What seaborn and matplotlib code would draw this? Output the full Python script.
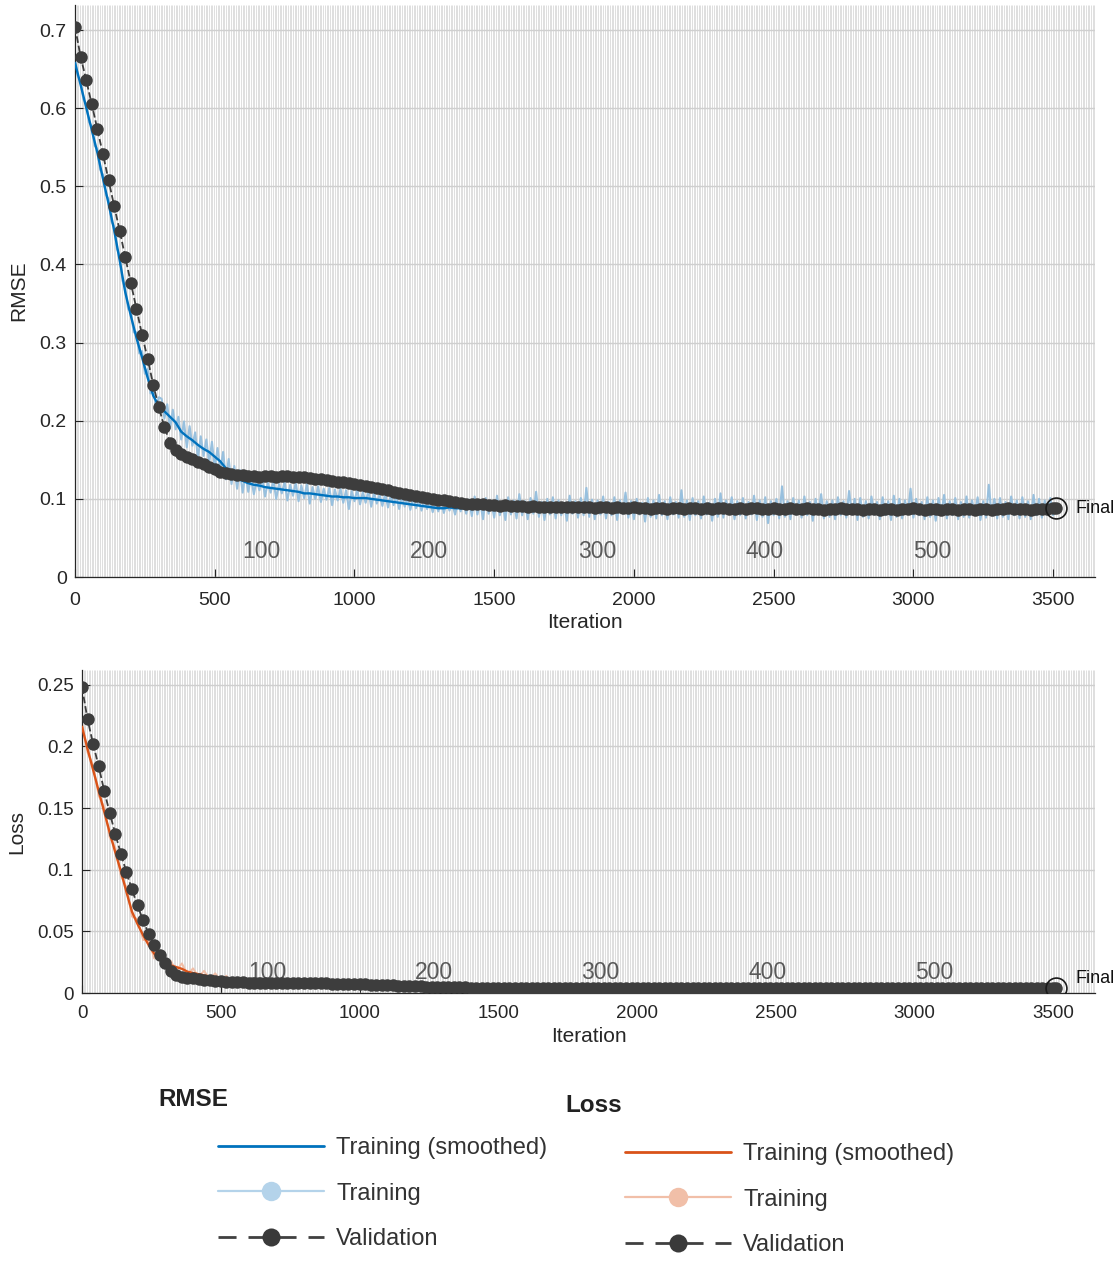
import numpy as np
import matplotlib.pyplot as plt
import seaborn as sns
from matplotlib.lines import Line2D

# validation every 20 iterations, last point at the final iteration
val_iter = list(range(0, 3501, 20)) + [3510]
# raw training rmse sampled every 10 iterations
raw_iter = list(range(0, 3511, 10))
epoch_labels = ["100", "200", "300", "400", "500"]
epoch_label_iter = [600, 1200, 1800, 2400, 3000]

rmse_val = [
    0.704, 0.666, 0.636, 0.605, 0.573, 0.541, 0.508, 0.475, 0.443, 0.409,
    0.376, 0.343, 0.310, 0.279, 0.246, 0.217, 0.192, 0.172, 0.163, 0.158,
    0.154, 0.151, 0.147, 0.144, 0.141, 0.138, 0.135, 0.133, 0.132, 0.131,
    0.130, 0.129, 0.129, 0.128, 0.129, 0.129, 0.128, 0.129, 0.129, 0.128,
    0.128, 0.128, 0.127, 0.126, 0.125, 0.124, 0.123, 0.122, 0.121, 0.120,
    0.119, 0.118, 0.117, 0.115, 0.114, 0.112, 0.111, 0.109, 0.108, 0.106,
    0.105, 0.104, 0.102, 0.101, 0.100, 0.099, 0.098, 0.097, 0.096, 0.095,
    0.094, 0.093, 0.093, 0.093, 0.092, 0.092, 0.091, 0.092, 0.091, 0.091,
    0.091, 0.090, 0.091, 0.090, 0.090, 0.090, 0.089, 0.090, 0.089, 0.089,
    0.090, 0.089, 0.089, 0.088, 0.089, 0.089, 0.088, 0.089, 0.088, 0.088,
    0.089, 0.088, 0.088, 0.087, 0.088, 0.088, 0.087, 0.088, 0.088, 0.087,
    0.088, 0.088, 0.087, 0.088, 0.087, 0.088, 0.088, 0.087, 0.087, 0.088,
    0.087, 0.088, 0.088, 0.087, 0.087, 0.088, 0.087, 0.087, 0.088, 0.087,
    0.087, 0.088, 0.087, 0.087, 0.086, 0.087, 0.087, 0.088, 0.087, 0.087,
    0.087, 0.086, 0.087, 0.087, 0.086, 0.087, 0.087, 0.086, 0.087, 0.087,
    0.088, 0.087, 0.086, 0.087, 0.087, 0.086, 0.087, 0.087, 0.086, 0.087,
    0.087, 0.086, 0.087, 0.087, 0.086, 0.087, 0.087, 0.088, 0.087, 0.087,
    0.087, 0.086, 0.087, 0.087, 0.087, 0.088, 0.088,
]

rmse_smooth = [
    0.658, 0.630, 0.601, 0.572, 0.543, 0.510, 0.478, 0.444, 0.405, 0.364,
    0.334, 0.306, 0.281, 0.255, 0.232, 0.219, 0.212, 0.205, 0.198, 0.186,
    0.180, 0.175, 0.169, 0.164, 0.160, 0.154, 0.148, 0.139, 0.130, 0.126,
    0.123, 0.120, 0.118, 0.117, 0.115, 0.114, 0.113, 0.112, 0.111, 0.110,
    0.109, 0.107, 0.107, 0.106, 0.105, 0.104, 0.103, 0.103, 0.102, 0.102,
    0.101, 0.101, 0.101, 0.100, 0.099, 0.098, 0.097, 0.096, 0.095, 0.094,
    0.093, 0.092, 0.091, 0.090, 0.089, 0.088, 0.088, 0.089, 0.088, 0.088,
    0.088, 0.087, 0.088, 0.088, 0.087, 0.088, 0.087, 0.087, 0.088, 0.087,
    0.087, 0.088, 0.087, 0.086, 0.087, 0.087, 0.088, 0.087, 0.086, 0.087,
    0.087, 0.086, 0.087, 0.088, 0.087, 0.086, 0.087, 0.087, 0.086, 0.087,
    0.088, 0.087, 0.086, 0.087, 0.087, 0.088, 0.087, 0.086, 0.087, 0.087,
    0.086, 0.087, 0.088, 0.087, 0.086, 0.087, 0.087, 0.086, 0.088, 0.087,
    0.087, 0.086, 0.087, 0.087, 0.088, 0.087, 0.086, 0.087, 0.087, 0.086,
    0.087, 0.088, 0.087, 0.086, 0.087, 0.087, 0.086, 0.087, 0.088, 0.087,
    0.086, 0.087, 0.087, 0.086, 0.087, 0.088, 0.087, 0.086, 0.087, 0.087,
    0.087, 0.086, 0.087, 0.088, 0.087, 0.086, 0.087, 0.087, 0.088, 0.087,
    0.086, 0.087, 0.087, 0.086, 0.087, 0.088, 0.087, 0.086, 0.087, 0.087,
    0.087, 0.088, 0.087, 0.086, 0.087, 0.087, 0.087,
]

rmse_raw = [
    0.662, 0.641, 0.634, 0.611, 0.606, 0.582, 0.577, 0.552, 0.548, 0.521,
    0.515, 0.489, 0.484, 0.455, 0.449, 0.420, 0.411, 0.379, 0.370, 0.343,
    0.340, 0.313, 0.313, 0.286, 0.289, 0.260, 0.266, 0.235, 0.243, 0.216,
    0.230,
    0.228, 0.203, 0.221, 0.190, 0.214, 0.189, 0.205, 0.176, 0.199, 0.166,
    0.193, 0.168, 0.185, 0.152, 0.180, 0.155, 0.176, 0.146, 0.173, 0.140,
    0.165, 0.137, 0.160, 0.125, 0.151, 0.119, 0.142, 0.113, 0.137, 0.108,
    0.133, 0.109, 0.128, 0.106, 0.124, 0.111, 0.127, 0.103, 0.121, 0.108,
    0.124, 0.100, 0.119, 0.107, 0.122, 0.098, 0.118, 0.104, 0.121, 0.097,
    0.117, 0.101, 0.119, 0.094, 0.115, 0.100, 0.116, 0.096, 0.113, 0.099,
    0.114, 0.092, 0.112, 0.098, 0.113, 0.095, 0.111, 0.087, 0.110, 0.097,
    0.112, 0.093, 0.109, 0.095, 0.111, 0.090, 0.108, 0.094, 0.106, 0.091,
    0.107, 0.089, 0.105, 0.092, 0.104, 0.087, 0.103, 0.090, 0.101, 0.086,
    0.102, 0.088, 0.099, 0.085, 0.098, 0.087, 0.097, 0.083, 0.096, 0.084,
    0.097, 0.082, 0.096, 0.085, 0.094, 0.080, 0.095, 0.084, 0.096, 0.081,
    0.099, 0.078, 0.103, 0.080, 0.097, 0.074, 0.101, 0.081, 0.096, 0.076,
    0.104, 0.079, 0.095, 0.073, 0.102, 0.080, 0.098, 0.075, 0.106, 0.079,
    0.097, 0.074, 0.101, 0.081, 0.109, 0.077, 0.096, 0.073, 0.100, 0.080,
    0.102, 0.075, 0.098, 0.079, 0.095, 0.072, 0.104, 0.081, 0.097, 0.076,
    0.101, 0.079, 0.114, 0.077, 0.099, 0.074, 0.098, 0.080, 0.103, 0.075,
    0.096, 0.079, 0.102, 0.073, 0.098, 0.081, 0.108, 0.076, 0.097, 0.074,
    0.100, 0.080, 0.095, 0.071, 0.101, 0.077, 0.098, 0.075, 0.105, 0.079,
    0.097, 0.074, 0.102, 0.080, 0.096, 0.076, 0.111, 0.077, 0.098, 0.073,
    0.101, 0.079, 0.097, 0.075, 0.103, 0.080, 0.095, 0.072, 0.100, 0.077,
    0.107, 0.076, 0.098, 0.081, 0.102, 0.074, 0.097, 0.079, 0.101, 0.075,
    0.096, 0.080, 0.104, 0.073, 0.098, 0.077, 0.102, 0.069, 0.097, 0.079,
    0.100, 0.075, 0.116, 0.077, 0.097, 0.074, 0.101, 0.080, 0.098, 0.076,
    0.103, 0.079, 0.096, 0.072, 0.100, 0.081, 0.106, 0.075, 0.097, 0.077,
    0.098, 0.074, 0.102, 0.079, 0.097, 0.076, 0.110, 0.080, 0.100, 0.073,
    0.101, 0.077, 0.097, 0.075, 0.103, 0.080, 0.096, 0.074, 0.102, 0.079,
    0.097, 0.073, 0.104, 0.077, 0.100, 0.075, 0.098, 0.081, 0.113, 0.076,
    0.100, 0.079, 0.096, 0.074, 0.102, 0.077, 0.098, 0.072, 0.101, 0.080,
    0.105, 0.075, 0.097, 0.079, 0.101, 0.074, 0.096, 0.077, 0.103, 0.076,
    0.098, 0.080, 0.102, 0.073, 0.097, 0.076, 0.118, 0.079, 0.100, 0.075,
    0.101, 0.077, 0.096, 0.074, 0.103, 0.079, 0.098, 0.075, 0.102, 0.077,
    0.097, 0.074, 0.105, 0.079, 0.100, 0.076, 0.098, 0.080, 0.101, 0.079,
    0.088,
]

loss_val = [
    0.248, 0.222, 0.202, 0.184, 0.164, 0.146, 0.129, 0.113, 0.098, 0.084,
    0.071, 0.059, 0.048, 0.039, 0.031, 0.024, 0.018, 0.0148, 0.0133, 0.0125,
    0.0118, 0.0114, 0.0108, 0.0104, 0.0099, 0.0095, 0.0091, 0.0089, 0.0087, 0.0086,
    0.0085, 0.0083, 0.0083, 0.0082, 0.0083, 0.0083, 0.0082, 0.0083, 0.0083, 0.0082,
    0.0082, 0.0082, 0.0081, 0.0079, 0.0078, 0.0077, 0.0076, 0.0074, 0.0073, 0.0072,
    0.0071, 0.0070, 0.0068, 0.0066, 0.0065, 0.0063, 0.0062, 0.0059, 0.0058, 0.0056,
    0.0055, 0.0054, 0.0052, 0.0051, 0.0050, 0.0049, 0.0048, 0.0047, 0.0046, 0.0045,
    0.0044, 0.0043, 0.0043, 0.0043, 0.0042, 0.0042, 0.0041, 0.0042, 0.0041, 0.0041,
    0.0041, 0.0040, 0.0041, 0.0040, 0.0040, 0.0040, 0.0040, 0.0040, 0.0040, 0.0040,
    0.0040, 0.0040, 0.0040, 0.0039, 0.0040, 0.0040, 0.0039, 0.0040, 0.0039, 0.0039,
    0.0040, 0.0039, 0.0039, 0.0038, 0.0039, 0.0039, 0.0038, 0.0039, 0.0039, 0.0038,
    0.0039, 0.0039, 0.0038, 0.0039, 0.0038, 0.0039, 0.0039, 0.0038, 0.0038, 0.0039,
    0.0038, 0.0039, 0.0039, 0.0038, 0.0038, 0.0039, 0.0038, 0.0038, 0.0039, 0.0038,
    0.0038, 0.0039, 0.0038, 0.0038, 0.0037, 0.0038, 0.0038, 0.0039, 0.0038, 0.0038,
    0.0038, 0.0037, 0.0038, 0.0038, 0.0037, 0.0038, 0.0038, 0.0037, 0.0038, 0.0038,
    0.0039, 0.0038, 0.0037, 0.0038, 0.0038, 0.0037, 0.0038, 0.0038, 0.0037, 0.0038,
    0.0038, 0.0037, 0.0038, 0.0038, 0.0037, 0.0038, 0.0038, 0.0039, 0.0038, 0.0038,
    0.0038, 0.0037, 0.0038, 0.0038, 0.0038, 0.0039, 0.0039,
]

loss_smooth = [
    0.216, 0.198, 0.181, 0.164, 0.147, 0.130, 0.114, 0.099, 0.082, 0.066,
    0.056, 0.047, 0.039, 0.032, 0.027, 0.024, 0.0225, 0.021, 0.0196, 0.0173,
    0.0162, 0.0153, 0.0143, 0.0134, 0.0128, 0.0119, 0.0110, 0.0097, 0.0085, 0.0079,
    0.0076, 0.0072, 0.0070, 0.0068, 0.0066, 0.0065, 0.0064, 0.0063, 0.0062, 0.0060,
    0.0059, 0.0057, 0.0057, 0.0056, 0.0055, 0.0054, 0.0053, 0.0053, 0.0052, 0.0052,
    0.0051, 0.0051, 0.0051, 0.0050, 0.0049, 0.0048, 0.0047, 0.0046, 0.0045, 0.0044,
    0.0043, 0.0042, 0.0041, 0.0040, 0.0040, 0.0039, 0.0039, 0.0040, 0.0039, 0.0039,
    0.0039, 0.0038, 0.0039, 0.0039, 0.0038, 0.0039, 0.0038, 0.0038, 0.0039, 0.0038,
    0.0038, 0.0039, 0.0038, 0.0037, 0.0038, 0.0038, 0.0039, 0.0038, 0.0037, 0.0038,
    0.0038, 0.0037, 0.0038, 0.0039, 0.0038, 0.0037, 0.0038, 0.0038, 0.0037, 0.0038,
    0.0039, 0.0038, 0.0037, 0.0038, 0.0038, 0.0039, 0.0038, 0.0037, 0.0038, 0.0038,
    0.0037, 0.0038, 0.0039, 0.0038, 0.0037, 0.0038, 0.0038, 0.0037, 0.0039, 0.0038,
    0.0038, 0.0037, 0.0038, 0.0038, 0.0039, 0.0038, 0.0037, 0.0038, 0.0038, 0.0037,
    0.0038, 0.0039, 0.0038, 0.0037, 0.0038, 0.0038, 0.0037, 0.0038, 0.0039, 0.0038,
    0.0037, 0.0038, 0.0038, 0.0037, 0.0038, 0.0039, 0.0038, 0.0037, 0.0038, 0.0038,
    0.0038, 0.0037, 0.0038, 0.0039, 0.0038, 0.0037, 0.0038, 0.0038, 0.0039, 0.0038,
    0.0037, 0.0038, 0.0038, 0.0037, 0.0038, 0.0039, 0.0038, 0.0037, 0.0038, 0.0038,
    0.0038, 0.0039, 0.0038, 0.0037, 0.0038, 0.0038, 0.0038,
]

loss_raw = [
    0.219, 0.195, 0.185, 0.160, 0.151, 0.126, 0.118, 0.095, 0.086, 0.062,
    0.060, 0.043, 0.043, 0.028, 0.031, 0.021, 0.026, 0.018, 0.024, 0.015,
    0.020, 0.013, 0.018, 0.011, 0.016, 0.0098, 0.014, 0.0078, 0.0105, 0.0062,
    0.0092, 0.0058, 0.0086, 0.0055, 0.0081, 0.0052, 0.0078, 0.0050, 0.0075, 0.0047,
    0.0071, 0.0046, 0.0069, 0.0044, 0.0066, 0.0043, 0.0064, 0.0041, 0.0063, 0.0042,
    0.0062, 0.0041, 0.0060, 0.0040, 0.0059, 0.0038, 0.0057, 0.0037, 0.0054, 0.0036,
    0.0052, 0.0035, 0.0050, 0.0033, 0.0048, 0.0032, 0.0047, 0.0033, 0.0046, 0.0032,
    0.0046, 0.0031, 0.0047, 0.0032, 0.0045, 0.0031, 0.0046, 0.0030, 0.0048, 0.0032,
    0.0045, 0.0031, 0.0047, 0.0030, 0.0046, 0.0032, 0.0052, 0.0031, 0.0045, 0.0030,
    0.0046, 0.0032, 0.0044, 0.0031, 0.0047, 0.0030, 0.0045, 0.0032, 0.0046, 0.0031,
    0.0051, 0.0031, 0.0045, 0.0032, 0.0047, 0.0030, 0.0045, 0.0031, 0.0046, 0.0032,
    0.0045, 0.0030, 0.0060, 0.0031, 0.0046, 0.0032, 0.0045, 0.0030, 0.0047, 0.0031,
    0.0046, 0.0032, 0.0045, 0.0029, 0.0047, 0.0031, 0.0050, 0.0032, 0.0045, 0.0030,
    0.0046, 0.0031, 0.0048, 0.0032, 0.0045, 0.0030, 0.0047, 0.0031, 0.0056, 0.0032,
    0.0045, 0.0031, 0.0047, 0.0030, 0.0046, 0.0032, 0.0045, 0.0031, 0.0049, 0.0030,
    0.0046, 0.0032, 0.0045, 0.0031, 0.0047, 0.0030, 0.0046, 0.0032, 0.0045, 0.0031,
    0.0048, 0.0030, 0.0046, 0.0032, 0.0062, 0.0031, 0.0045, 0.0030, 0.0047, 0.0032,
    0.0046, 0.0031, 0.0045, 0.0032, 0.0047, 0.0031, 0.0039,
]

sns.set_theme(style="white")
plt.rcParams['font.family'] = ['Liberation Sans', 'DejaVu Sans']

blue = "#0072BD"
blue_light = "#98c0de"
orange = "#D95319"
orange_light = "#f1bfa8"
val_col = "#3d3d3d"
txt = "#262626"

fig = plt.figure(figsize=(11.14, 12.63), dpi=100)
ax1 = fig.add_axes([75 / 1114, 1 - 577 / 1263, 1020 / 1114, 572 / 1263])
ax2 = fig.add_axes([82 / 1114, 1 - 993 / 1263, 1013 / 1114, 323 / 1263])


def style_axis(ax, ylim, yticks, ylabels, ylab, tsize, xpad):
    ax.set_xlim(0, 3650)
    ax.set_ylim(*ylim)
    # epoch boundaries (6 iterations per epoch)
    ax.vlines(np.arange(0, 3651, 6), 0, 1, transform=ax.get_xaxis_transform(),
              colors="#dcdcdc", lw=0.65, zorder=0)
    ax.set_axisbelow(True)
    ax.grid(axis="y", color="#cfcfcf", lw=1.0)
    ax.grid(axis="x", visible=False)
    ax.set_yticks(yticks)
    ax.set_yticklabels(ylabels)
    ax.set_xticks(range(0, 3501, 500))
    ax.tick_params(direction="in", length=6, width=0.8, colors=txt,
                   labelsize=tsize, left=True, bottom=True)
    ax.tick_params(axis="y", pad=6)
    ax.tick_params(axis="x", pad=xpad)
    for s in ["top", "right"]:
        ax.spines[s].set_visible(False)
    for s in ["left", "bottom"]:
        ax.spines[s].set_color(txt)
        ax.spines[s].set_linewidth(0.9)
    ax.set_xlabel("Iteration", fontsize=15, color=txt, labelpad=3)
    ax.set_ylabel(ylab, fontsize=15, color=txt, labelpad=8)


style_axis(ax1, (0, 0.732), [0, 0.1, 0.2, 0.3, 0.4, 0.5, 0.6, 0.7],
           ["0", "0.1", "0.2", "0.3", "0.4", "0.5", "0.6", "0.7"], "RMSE", 14, 11)
style_axis(ax2, (0, 0.262), [0, 0.05, 0.1, 0.15, 0.2, 0.25],
           ["0", "0.05", "0.1", "0.15", "0.2", "0.25"], "Loss", 13.5, 9)

for ax, ylab in [(ax1, 0.033), (ax2, 0.017)]:
    for lab, it in zip(epoch_labels, epoch_label_iter):
        ax.text(it, ylab, lab, fontsize=16.5, color="#5a5a5a", ha="left",
                va="center", zorder=1)

# RMSE panel
sns.lineplot(x=raw_iter, y=rmse_raw, ax=ax1, color=blue_light, lw=1.5, zorder=2)
sns.lineplot(x=val_iter, y=rmse_smooth, ax=ax1, color=blue, lw=1.7, zorder=3)
sns.lineplot(x=val_iter, y=rmse_val, ax=ax1, color=val_col, lw=1.3, linestyle="--",
             marker="o", markersize=9, markeredgewidth=0, zorder=4)
ax1.plot(val_iter[-1], rmse_val[-1], marker="o", ms=15, mfc="none", mec="#1a1a1a",
         mew=1.2, zorder=5)
ax1.text(3580, rmse_val[-1], "Final", fontsize=13, color="#111111", va="center",
         ha="left", clip_on=False)

# Loss panel
sns.lineplot(x=val_iter, y=loss_raw, ax=ax2, color=orange_light, lw=1.4, zorder=2)
sns.lineplot(x=val_iter, y=loss_smooth, ax=ax2, color=orange, lw=1.7, zorder=3)
sns.lineplot(x=val_iter, y=loss_val, ax=ax2, color=val_col, lw=1.3, linestyle="--",
             marker="o", markersize=9, markeredgewidth=0, zorder=4)
ax2.plot(val_iter[-1], loss_val[-1], marker="o", ms=15, mfc="none", mec="#1a1a1a",
         mew=1.2, zorder=5)
ax2.text(3580, loss_val[-1] + 0.008, "Final", fontsize=13, color="#111111",
         va="center", ha="left", clip_on=False)

# legends
W, H = 1114, 1263


def make_handles(c, c_light):
    return [
        Line2D([], [], color=c, lw=2.0),
        Line2D([], [], color=c_light, lw=1.6, marker="o", ms=14, mec="none"),
        Line2D([], [], color="#404040", lw=2.0, ls=(0, (6.5, 4.3)), marker="o",
               ms=13, mfc="#3a3a3a", mec="none"),
    ]


labels = ["Training (smoothed)", "Training", "Validation"]
for (tx, ty, lx, ly, c, cl, title) in [
        (158, 1100, 218, 1137, blue, "#b4d3ea", "RMSE"),
        (565, 1106, 625, 1143, orange, orange_light, "Loss")]:
    fig.text(tx / W, 1 - ty / H, title, fontsize=17.5, fontweight="bold",
             color="#222222", ha="left", va="center")
    fig.legend(make_handles(c, cl), labels, loc="upper left",
               bbox_to_anchor=(lx / W, 1 - ly / H), frameon=False,
               fontsize=17, handlelength=4.5, handletextpad=0.5,
               labelspacing=1.0, borderpad=0, borderaxespad=0, numpoints=1,
               labelcolor="#333333")

fig.savefig("out.png", dpi=100)
